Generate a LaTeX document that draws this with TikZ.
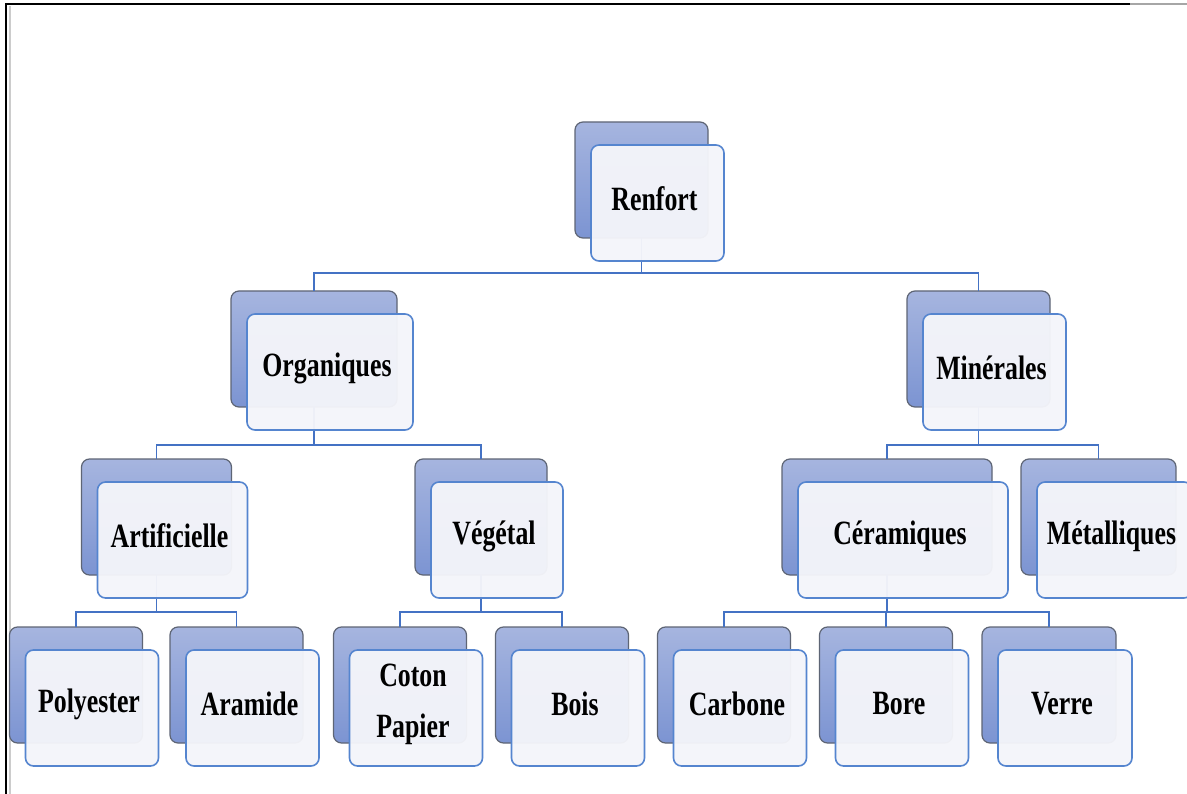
\documentclass[tikz,border=0pt]{standalone}
\usepackage{fontspec}
\newfontfamily\labfont{Liberation Serif}[FakeStretch=0.76]
\definecolor{backtop}{HTML}{A6B5DF}
\definecolor{backbot}{HTML}{7C94D2}
\definecolor{backedge}{HTML}{5E6575}
\definecolor{frontfill}{HTML}{F4F5FA}
\definecolor{frontedge}{HTML}{5585CF}
\definecolor{conncol}{HTML}{4472C4}
\tikzset{
  backbox/.style={rectangle, rounded corners=8pt, top color=backtop, bottom color=backbot,
    draw=backedge, line width=1.2pt, minimum height=116pt, inner sep=0pt, outer sep=0pt},
  frontbox/.style={rectangle, rounded corners=8pt, fill=frontfill, fill opacity=0.96,
    draw=frontedge, line width=1.6pt, minimum height=116pt, inner sep=0pt, outer sep=0pt},
  lbl/.style={font=\labfont\bfseries\fontsize{34}{46}\selectfont, align=center, inner sep=0pt, text=black},
  conn/.style={draw=conncol, line width=1.8pt},
}
\newcommand{\mkitem}[5]{%
  \node[backbox, minimum width=#4pt] (#1) at (#2,#3) {};
}
\newcommand{\mkfront}[3]{%
  \node[frontbox, minimum width=#2pt] (#1-f) at ([shift={(16,23)}]#1.center) {};
  \node[lbl] (#1-t) at ([shift={(13,19)}]#1.center) {#3};
}
\begin{document}
\begin{tikzpicture}[x=1pt,y=-1pt]
\useasboundingbox (0,0) rectangle (1187,794);
\clip (0,0) rectangle (1187,794);
\fill[white] (0,0) rectangle (1187,794);
% frame
\draw[black!20, line width=1.5pt] (10,794) -- (10,6);
\draw[black, line width=1.6pt] (6,794) -- (6,4) -- (1130,4);
\draw[black!35, line width=1.6pt] (1130,4) -- (1187,4);
% back boxes
\mkitem{renfort}{641.5}{180}{133}{}
\mkitem{org}{314}{349}{166}{}
\mkitem{min}{978.5}{349}{143}{}
\mkitem{art}{156.5}{517}{150}{}
\mkitem{veg}{481}{517}{132}{}
\mkitem{cer}{887}{517}{210}{}
\mkitem{met}{1098.5}{517}{155}{}
\mkitem{pol}{76}{685}{133}{}
\mkitem{ara}{236.5}{685}{133}{}
\mkitem{cot}{400}{685}{133}{}
\mkitem{boi}{562}{685}{133}{}
\mkitem{car}{724}{685}{133}{}
\mkitem{bor}{886}{685}{133}{}
\mkitem{ver}{1049}{685}{134}{}
% bus levels
\coordinate (b1) at (0,273);
\coordinate (b2) at (0,445);
\coordinate (b3) at (0,612);
% connectors
\foreach \c in {org,min}
  \draw[conn] (renfort.south) -- (renfort.south |- b1) -| (\c.north);
\foreach \c in {art,veg}
  \draw[conn] (org.south) -- (org.south |- b2) -| (\c.north);
\foreach \c in {cer,met}
  \draw[conn] (min.south) -- (min.south |- b2) -| (\c.north);
\foreach \c in {pol,ara}
  \draw[conn] (art.south) -- (art.south |- b3) -| (\c.north);
\foreach \c in {cot,boi}
  \draw[conn] (veg.south) -- (veg.south |- b3) -| (\c.north);
\foreach \c in {car,bor,ver}
  \draw[conn] (cer.south) -- (cer.south |- b3) -| (\c.north);
% front boxes and labels
\mkfront{renfort}{133}{Renfort}
\mkfront{org}{166}{Organiques}
\mkfront{min}{143}{Minérales}
\mkfront{art}{150}{Artificielle}
\mkfront{veg}{132}{Végétal}
\mkfront{cer}{210}{Céramiques}
\mkfront{met}{155}{Métalliques}
\mkfront{pol}{133}{Polyester}
\mkfront{ara}{133}{Aramide}
\mkfront{cot}{133}{Coton\\[5pt]Papier}
\mkfront{boi}{133}{Bois}
\mkfront{car}{133}{Carbone}
\mkfront{bor}{133}{Bore}
\mkfront{ver}{134}{Verre}
\end{tikzpicture}
\end{document}
